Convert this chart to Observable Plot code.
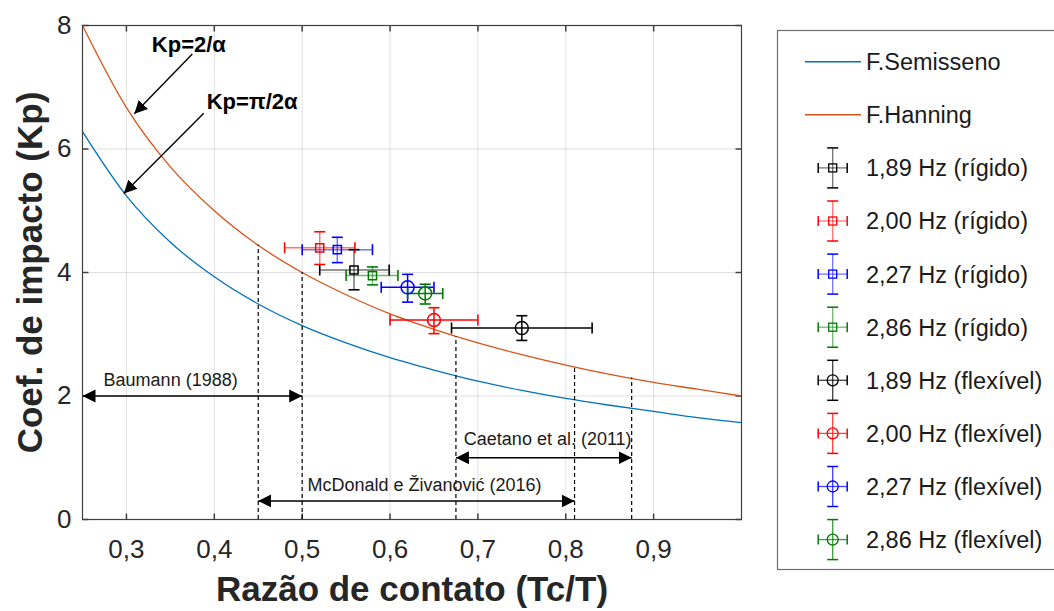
<!DOCTYPE html>
<html>
<head>
<meta charset="utf-8">
<script src="https://cdn.jsdelivr.net/npm/d3@7"></script>
<script src="https://cdn.jsdelivr.net/npm/@observablehq/plot@0.6"></script>
<style>
  body { margin: 0; background: #fff; font-family: "Liberation Sans", Arial, sans-serif; }
  #wrap { position: relative; width: 1054px; height: 611px; overflow: hidden; }
  #wrap > svg { position: absolute; left: 0; top: 0; }
</style>
</head>
<body>
<div id="wrap"></div>
<script>
// ---------- data ----------
const xDomain = [0.25, 1.0];
const yDomain = [0, 8];
const xTicks = [0.3, 0.4, 0.5, 0.6, 0.7, 0.8, 0.9];
const yTicks = [0, 2, 4, 6, 8];

// curves
const curveX       = [0.25, 0.30, 0.35, 0.40, 0.45, 0.50, 0.55, 0.60, 0.65, 0.70, 0.75, 0.80, 0.85, 0.90, 0.95, 1.00];
const semissenoKp  = [6.28, 5.24, 4.49, 3.93, 3.49, 3.14, 2.86, 2.62, 2.42, 2.24, 2.09, 1.96, 1.85, 1.75, 1.65, 1.57];
const hanningKp    = [8.00, 6.67, 5.71, 5.00, 4.44, 4.00, 3.64, 3.33, 3.08, 2.86, 2.67, 2.50, 2.35, 2.22, 2.11, 2.00];
const curveNames   = ["F.Semisseno", "F.Hanning"];
const curveColors  = ["#0072BD", "#D95319"];

// measured points
const seriesNames  = ["1,89 Hz (rígido)", "2,00 Hz (rígido)", "2,27 Hz (rígido)", "2,86 Hz (rígido)",
                      "1,89 Hz (flexível)", "2,00 Hz (flexível)", "2,27 Hz (flexível)", "2,86 Hz (flexível)"];
const seriesColors = ["#000000", "#ff0000", "#0000ff", "#007a00", "#000000", "#ff0000", "#0000ff", "#007a00"];
const seriesShape  = ["square", "square", "square", "square", "circle", "circle", "circle", "circle"];
const ptX     = [0.559, 0.520, 0.540, 0.580, 0.750, 0.650, 0.620, 0.640];
const ptY     = [4.04, 4.40, 4.37, 3.95, 3.10, 3.23, 3.76, 3.66];
const ptXLow  = [0.520, 0.480, 0.500, 0.550, 0.670, 0.600, 0.590, 0.620];
const ptXHigh = [0.599, 0.560, 0.580, 0.609, 0.830, 0.700, 0.650, 0.660];
const ptYLow  = [3.72, 4.13, 4.16, 3.80, 2.90, 3.01, 3.52, 3.49];
const ptYHigh = [4.37, 4.66, 4.57, 4.09, 3.30, 3.43, 3.97, 3.81];

// reference ranges (dashed lines + double arrows)
const refLineX   = [0.45, 0.50, 0.675, 0.81, 0.875];
const refLineTop = [4.44, 4.00, 2.96, 2.47, 2.29];
const rangeNames = ["Baumann (1988)", "Caetano et al. (2011)", "McDonald e Živanović (2016)"];
const rangeStart = [0.25, 0.675, 0.45];
const rangeEnd   = [0.50, 0.875, 0.81];
const rangeKp    = [2.0, 1.0, 0.3];
const rangeLabelX  = [0.274, 0.684, 0.506];
const rangeLabelKp = [2.26, 1.30, 0.55];

// formula annotations
const annText  = ["Kp=2/α", "Kp=π/2α"];
const annTextX = [0.371, 0.443];
const annTextY = [7.69, 6.76];
const annFromX = [0.375, 0.388];
const annFromY = [7.54, 6.58];
const annToX   = [0.309, 0.297];
const annToY   = [6.57, 5.28];

// axis titles
const xTitle = "Razão de contato (Tc/T)";
const yTitle = "Coef. de impacto (Kp)";

// ---------- tables ----------
const curves = curveNames.flatMap((name, k) =>
  curveX.map((x, i) => ({name, color: curveColors[k], x, y: (k === 0 ? semissenoKp : hanningKp)[i]})));
const points = seriesNames.map((name, i) => ({
  name, color: seriesColors[i], shape: seriesShape[i], rigid: seriesShape[i] === "square",
  x: ptX[i], y: ptY[i], xl: ptXLow[i], xh: ptXHigh[i], yl: ptYLow[i], yh: ptYHigh[i]
}));
const refLines = refLineX.map((x, i) => ({x, top: refLineTop[i]}));
const ranges = rangeNames.map((name, i) => ({name, x1: rangeStart[i], x2: rangeEnd[i], y: rangeKp[i], lx: rangeLabelX[i], ly: rangeLabelKp[i]}));
const anns = annText.map((t, i) => ({t, tx: annTextX[i], ty: annTextY[i], x1: annFromX[i], y1: annFromY[i], x2: annToX[i], y2: annToY[i]}));

const fmt = d => d.toFixed(1).replace(".", ",");

// custom symbols
const tickSym = {draw(ctx) { ctx.moveTo(0, 0); ctx.lineTo(0, -6); }};
const capSym  = {draw(ctx) { ctx.moveTo(-5.5, 0); ctx.lineTo(5.5, 0); }};

function filledArrow(color) {
  const ns = "http://www.w3.org/2000/svg";
  const m = document.createElementNS(ns, "marker");
  m.setAttribute("viewBox", "-13 -7 14 14");
  m.setAttribute("markerWidth", "14");
  m.setAttribute("markerHeight", "14");
  m.setAttribute("markerUnits", "userSpaceOnUse");
  m.setAttribute("orient", "auto-start-reverse");
  m.setAttribute("refX", "0");
  m.setAttribute("refY", "0");
  const p = document.createElementNS(ns, "path");
  p.setAttribute("d", "M0,0L-13,-6.5L-13,6.5Z");
  p.setAttribute("fill", color);
  p.setAttribute("stroke", "none");
  m.appendChild(p);
  return m;
}

const frameColor = "#404040";
const chart = Plot.plot({
  width: 1054,
  height: 611,
  marginLeft: 82,
  marginRight: 313,
  marginTop: 25,
  marginBottom: 92,
  style: {fontFamily: "'Liberation Sans', Arial, sans-serif", background: "white", color: "#262626", overflow: "visible"},
  x: {domain: xDomain},
  y: {domain: yDomain},
  marks: [
    Plot.gridX(xTicks, {stroke: "#000", strokeOpacity: 0.12}),
    Plot.gridY(yTicks, {stroke: "#000", strokeOpacity: 0.12}),
    Plot.axisX(xTicks, {tickSize: 0, tickPadding: 20, tickFormat: fmt, fontSize: 26, label: null, fill: "#262626"}),
    Plot.axisY(yTicks, {tickSize: 0, tickPadding: 11, tickFormat: d => String(d), fontSize: 26, label: null, fill: "#262626"}),
    // inward ticks on all four sides
    Plot.dot(xTicks, {x: d => d, y: () => yDomain[0], symbol: tickSym, stroke: frameColor, fill: "none", rotate: 0}),
    Plot.dot(xTicks, {x: d => d, y: () => yDomain[1], symbol: tickSym, stroke: frameColor, fill: "none", rotate: 180}),
    Plot.dot(yTicks, {y: d => d, x: () => xDomain[0], symbol: tickSym, stroke: frameColor, fill: "none", rotate: 90}),
    Plot.dot(yTicks, {y: d => d, x: () => xDomain[1], symbol: tickSym, stroke: frameColor, fill: "none", rotate: -90}),
    // curves
    Plot.line(curves, {x: "x", y: "y", z: "name", stroke: "color", strokeWidth: 1.3, curve: "monotone-x"}),
    // dashed reference lines
    Plot.ruleX(refLines, {x: "x", y1: () => yDomain[0], y2: "top", stroke: "#000", strokeWidth: 1.2, strokeDasharray: "4,3"}),
    // range arrows
    Plot.link(ranges, {x1: "x1", x2: "x2", y1: "y", y2: "y", stroke: "#000", strokeWidth: 1.6, markerStart: filledArrow, markerEnd: filledArrow}),
    Plot.text(ranges, {x: "lx", y: "ly", text: "name", textAnchor: "start", fontSize: 18, fill: "#1a1a1a"}),
    // annotations
    Plot.link(anns, {x1: "x1", y1: "y1", x2: "x2", y2: "y2", stroke: "#000", strokeWidth: 1.4, markerEnd: filledArrow}),
    Plot.text(anns, {x: "tx", y: "ty", text: "t", fontSize: 22, fontWeight: "bold", fill: "#000"}),
    // error bars
    Plot.ruleY(points, {y: "y", x1: "xl", x2: "xh", stroke: "color", strokeWidth: 1.5, strokeOpacity: d => d.rigid ? 0.55 : 1}),
    Plot.ruleX(points, {x: "x", y1: "yl", y2: "yh", stroke: "color", strokeWidth: 1.5, strokeOpacity: d => d.rigid ? 0.55 : 1}),
    Plot.dot(points, {x: "xl", y: "y", symbol: capSym, rotate: 90, stroke: "color", fill: "none", strokeWidth: 1.6}),
    Plot.dot(points, {x: "xh", y: "y", symbol: capSym, rotate: 90, stroke: "color", fill: "none", strokeWidth: 1.6}),
    Plot.dot(points, {x: "x", y: "yl", symbol: capSym, stroke: "color", fill: "none", strokeWidth: 1.6}),
    Plot.dot(points, {x: "x", y: "yh", symbol: capSym, stroke: "color", fill: "none", strokeWidth: 1.6}),
    Plot.dot(points.filter(d => d.rigid), {x: "x", y: "y", symbol: "square", r: 4.6, stroke: "color", fill: "none", strokeWidth: 1.5}),
    Plot.dot(points.filter(d => !d.rigid), {x: "x", y: "y", symbol: "circle", r: 6.5, stroke: "color", fill: "none", strokeWidth: 1.5}),
    Plot.frame({stroke: frameColor, strokeWidth: 1.2}),
    // axis titles
    Plot.text([xTitle], {frameAnchor: "bottom", dy: 70, textAnchor: "middle", lineAnchor: "middle", fontSize: 35, fontWeight: "bold", fill: "#262626"}),
    Plot.text([yTitle], {frameAnchor: "left", dx: -52, rotate: -90, textAnchor: "middle", lineAnchor: "middle", fontSize: 35, fontWeight: "bold", fill: "#262626"})
  ]
});
document.getElementById("wrap").appendChild(chart);

// ---------- legend ----------
const legendTop = 30, legendLeft = 777.5, rowStart = 61.7, rowStep = 53.1;
const leg = d3.create("svg").attr("width", 1054).attr("height", 611)
  .style("font-family", "'Liberation Sans', Arial, sans-serif");
leg.append("rect").attr("x", legendLeft).attr("y", legendTop + 0.5).attr("width", 320).attr("height", 539)
  .attr("fill", "white").attr("stroke", "#6e6e6e").attr("stroke-width", 1.2);
const entries = [
  ...curveNames.map((n, k) => ({name: n, kind: "line", color: curveColors[k]})),
  ...seriesNames.map((n, i) => ({name: n, kind: seriesShape[i], color: seriesColors[i], rigid: seriesShape[i] === "square"}))
];
entries.forEach((e, i) => {
  const cy = rowStart + rowStep * i;
  const g = leg.append("g");
  if (e.kind === "line") {
    g.append("line").attr("x1", 805).attr("x2", 861).attr("y1", cy).attr("y2", cy)
      .attr("stroke", e.color).attr("stroke-width", 1.4);
  } else {
    const cx = 832.7, op = e.rigid ? 0.55 : 0.75;
    g.append("line").attr("x1", cx - 14.5).attr("x2", cx + 14.5).attr("y1", cy).attr("y2", cy).attr("stroke", e.color).attr("stroke-width", 1.3).attr("stroke-opacity", op);
    g.append("line").attr("x1", cx).attr("x2", cx).attr("y1", cy - 20).attr("y2", cy + 20).attr("stroke", e.color).attr("stroke-width", 1.3).attr("stroke-opacity", op);
    g.append("line").attr("x1", cx - 14.5).attr("x2", cx - 14.5).attr("y1", cy - 5).attr("y2", cy + 5).attr("stroke", e.color).attr("stroke-width", 1.5);
    g.append("line").attr("x1", cx + 14.5).attr("x2", cx + 14.5).attr("y1", cy - 5).attr("y2", cy + 5).attr("stroke", e.color).attr("stroke-width", 1.5);
    g.append("line").attr("x1", cx - 5.5).attr("x2", cx + 5.5).attr("y1", cy - 20).attr("y2", cy - 20).attr("stroke", e.color).attr("stroke-width", 1.5);
    g.append("line").attr("x1", cx - 5.5).attr("x2", cx + 5.5).attr("y1", cy + 20).attr("y2", cy + 20).attr("stroke", e.color).attr("stroke-width", 1.5);
    if (e.kind === "square") {
      g.append("rect").attr("x", cx - 4).attr("y", cy - 4).attr("width", 8).attr("height", 8).attr("fill", "none").attr("stroke", e.color).attr("stroke-width", 1.3);
    } else {
      g.append("circle").attr("cx", cx).attr("cy", cy).attr("r", 5.5).attr("fill", "none").attr("stroke", e.color).attr("stroke-width", 1.3);
    }
  }
  g.append("text").attr("x", 866).attr("y", cy).attr("dy", "0.36em").attr("font-size", 23.5).attr("fill", "#1a1a1a").text(e.name);
});
document.getElementById("wrap").appendChild(leg.node());
</script>
</body>
</html>
